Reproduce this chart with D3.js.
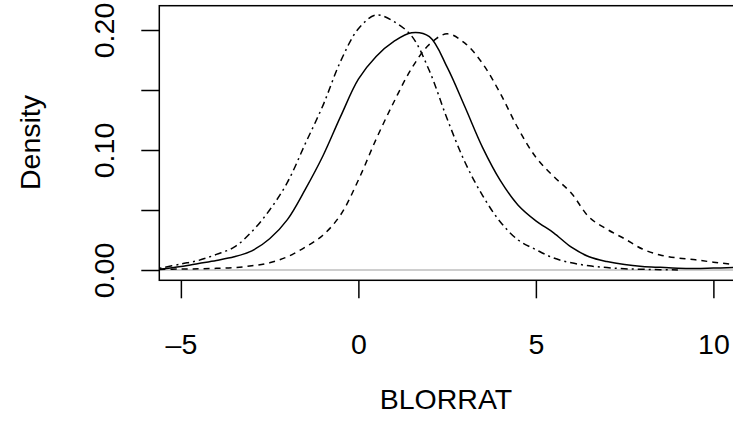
<!DOCTYPE html>
<html>
<head>
<meta charset="utf-8">
<script src="https://cdn.jsdelivr.net/npm/d3@7"></script>
<style>
    body { margin: 0; background: #fff; }
    #chart-area { width: 733px; height: 428px; overflow: hidden; }
    text { font-family: "Liberation Sans", Arial, Helvetica, sans-serif; }
</style>
</head>
<body>
<div id="chart-area"></div>
<script>
// density of BLORRAT for three groups
const xGrid = [-5.6, -5.0, -4.5, -4.0, -3.5, -3.0, -2.5, -2.0, -1.5, -1.0, -0.5, 0.0, 0.5, 1.0, 1.5, 2.0,
    2.5, 3.0, 3.5, 4.0, 4.5, 5.0, 5.5, 6.0, 6.5, 7.0, 7.5, 8.0, 8.5, 9.0, 9.5, 10.0, 10.6, 11.2];

const densitySolid = [0.0006, 0.003, 0.0055, 0.008, 0.011, 0.016, 0.026, 0.042, 0.067, 0.095, 0.128, 0.159,
    0.178, 0.1905, 0.1978, 0.1945, 0.169, 0.136, 0.102, 0.0745, 0.054, 0.041, 0.031, 0.019, 0.011, 0.007,
    0.0045, 0.003, 0.0022, 0.0015, 0.0013, 0.0016, 0.002, 0.0015];

const densityDashed = [0.0005, 0.0008, 0.001, 0.0014, 0.002, 0.0035, 0.006, 0.011, 0.019, 0.029, 0.046, 0.075,
    0.109, 0.140, 0.168, 0.188, 0.1968, 0.189, 0.172, 0.147, 0.118, 0.094, 0.078, 0.064, 0.044, 0.034,
    0.026, 0.0175, 0.0125, 0.010, 0.0085, 0.0065, 0.0045, 0.003];

const densityDotDash = [0.0014, 0.005, 0.008, 0.013, 0.019, 0.032, 0.050, 0.073, 0.105, 0.137, 0.174, 0.201,
    0.2125, 0.207, 0.195, 0.166, 0.126, 0.090, 0.062, 0.040, 0.025, 0.017, 0.010, 0.006, 0.0035, 0.002,
    0.001, 0.0006, 0.0003, 0.0001, null, null, null, null];

const xTicks = [-5, 0, 5, 10];
const yTicks = [0, 0.05, 0.10, 0.15, 0.20];
const yTickLabels = ["0.00", "", "0.10", "", "0.20"];

const xLabel = "BLORRAT";
const yLabel = "Density";

class DensityPlot {

    constructor(parentElement) {
        this.parentElement = parentElement;
        this.initVis();
    }

    initVis() {
        let vis = this;

        vis.margin = {top: 5.7, right: -30, bottom: 147.7, left: 159.3};
        vis.width = 733 - vis.margin.left - vis.margin.right;
        vis.height = 428 - vis.margin.top - vis.margin.bottom;
        vis.fontSize = "28.5px";

        vis.svg = d3.select("#" + vis.parentElement).append("svg")
            .attr("width", 733)
            .attr("height", 428)
            .append("g")
            .attr("transform", `translate(${vis.margin.left},${vis.margin.top})`);

        // R style limits: box runs a bit past the data
        vis.x = d3.scaleLinear()
            .domain([-5.608, -5.608 + vis.width / 35.5])
            .range([0, vis.width]);

        vis.y = d3.scaleLinear()
            .domain([-0.00858, 0.22025])
            .range([vis.height, 0]);

        vis.svg.append("clipPath")
            .attr("id", "plot-clip")
            .append("rect")
            .attr("width", vis.width)
            .attr("height", vis.height);

        // zero line in grey
        vis.svg.append("line")
            .attr("x1", 0)
            .attr("x2", vis.width)
            .attr("y1", vis.y(0))
            .attr("y2", vis.y(0))
            .attr("stroke", "#bebebe")
            .attr("stroke-width", 1.3);

        // axes
        vis.xAxis = d3.axisBottom(vis.x)
            .tickValues(xTicks)
            .tickSize(18)
            .tickFormat(d => d < 0 ? "\u2013" + Math.abs(d) : d);

        vis.xAxisGroup = vis.svg.append("g")
            .attr("class", "x-axis axis")
            .attr("transform", `translate(0,${vis.height})`)
            .call(vis.xAxis);

        vis.yAxis = d3.axisLeft(vis.y)
            .tickValues(yTicks)
            .tickSize(18)
            .tickFormat((d, i) => yTickLabels[i]);

        vis.yAxisGroup = vis.svg.append("g")
            .attr("class", "y-axis axis")
            .call(vis.yAxis);

        // R draws the axis line only between first and last tick
        vis.svg.selectAll(".axis .domain").remove();
        vis.svg.selectAll(".axis line").attr("stroke", "#000").attr("stroke-width", 1.5);
        vis.svg.selectAll(".axis text")
            .attr("fill", "#000")
            .style("font-size", vis.fontSize);

        // y labels run parallel to the axis
        vis.yAxisGroup.selectAll("text")
            .attr("x", 0)
            .attr("y", -45)
            .attr("dy", 0)
            .attr("text-anchor", "middle")
            .attr("transform", "rotate(-90)");

        vis.xAxisGroup.selectAll("text")
            .attr("dy", 0)
            .attr("y", 354 - vis.margin.top - vis.height);

        // axis titles
        vis.svg.append("text")
            .attr("class", "x-axis-label")
            .attr("x", 446 - vis.margin.left)
            .attr("y", 409 - vis.margin.top)
            .attr("text-anchor", "middle")
            .style("font-size", vis.fontSize)
            .text(xLabel);

        vis.svg.append("text")
            .attr("class", "y-axis-label")
            .attr("text-anchor", "middle")
            .attr("transform", `translate(${40 - vis.margin.left},${142.5 - vis.margin.top})rotate(-90)`)
            .style("font-size", vis.fontSize)
            .text(yLabel);

        vis.line = d3.line()
            .defined(d => d[1] !== null)
            .x(d => vis.x(d[0]))
            .y(d => vis.y(d[1]))
            .curve(d3.curveCatmullRom.alpha(0.5));

        vis.series = [
            {values: densitySolid, dash: null},
            {values: densityDashed, dash: "6,5"},
            {values: densityDotDash, dash: "2,4,7,4"}
        ];

        vis.svg.append("g")
            .attr("clip-path", "url(#plot-clip)")
            .selectAll(".density-line")
            .data(vis.series)
            .enter()
            .append("path")
            .attr("class", "density-line")
            .attr("d", s => vis.line(xGrid.map((x, i) => [x, s.values[i]])))
            .attr("fill", "none")
            .attr("stroke", "#000")
            .attr("stroke-width", 1.5)
            .attr("stroke-dasharray", s => s.dash);

        // plot box
        vis.svg.append("rect")
            .attr("width", vis.width)
            .attr("height", vis.height)
            .attr("fill", "none")
            .attr("stroke", "#000")
            .attr("stroke-width", 1.5);
    }
}

let densityPlot = new DensityPlot("chart-area");
</script>
</body>
</html>
